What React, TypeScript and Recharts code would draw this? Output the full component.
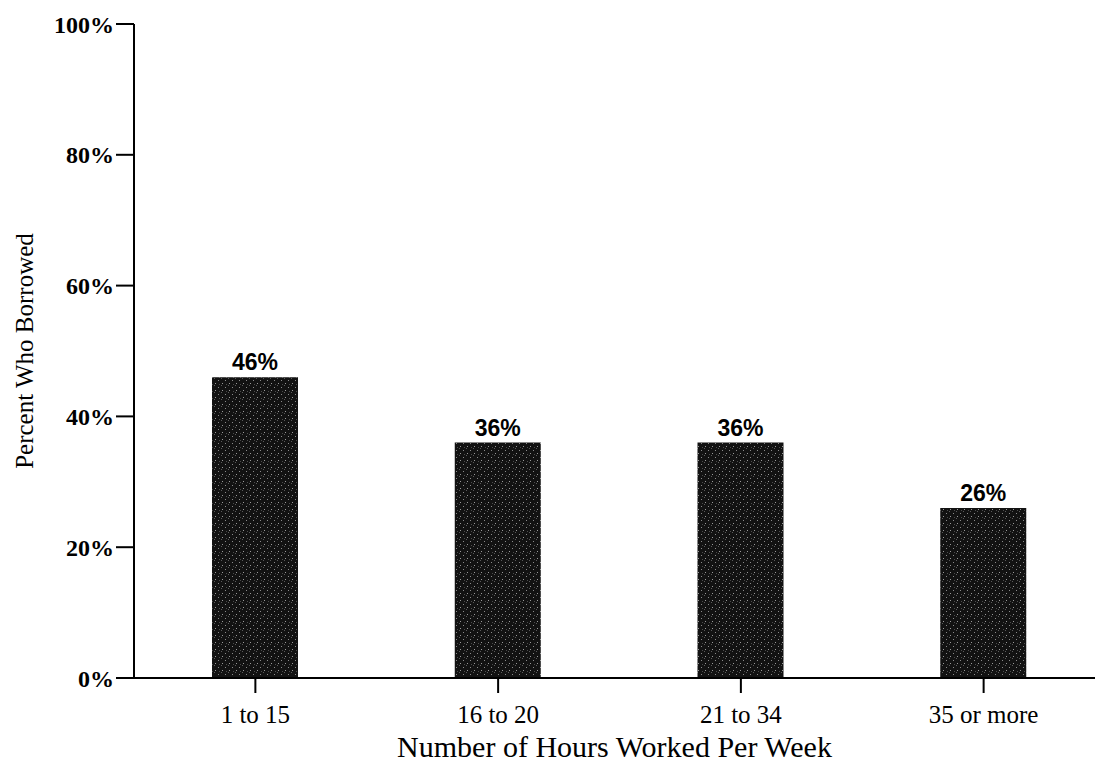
import { BarChart, Bar, XAxis, YAxis, LabelList, Label } from 'recharts'

const categories = ['1 to 15', '16 to 20', '21 to 34', '35 or more']
const borrowed = [46, 36, 36, 26]
const yTicks = [0, 20, 40, 60, 80, 100]

const data = categories.map((name, i) => ({ name, value: borrowed[i] }))

const serif = '"Liberation Serif", "Times New Roman", serif'
const sans = '"Liberation Sans", Arial, sans-serif'

export default function App() {
  return (
    <div
      style={{
        position: 'fixed',
        left: 0,
        top: 0,
        width: 1095,
        height: 764,
        overflow: 'hidden',
        background: '#fff',
      }}
    >
      <BarChart
        width={1105}
        height={764}
        data={data}
        margin={{ top: 24, right: 0, bottom: 0, left: 0 }}
        barCategoryGap={0}
      >
        <defs>
          {/* speckled dark fill like the scanned print */}
          <pattern id="speckle" width="7" height="7" patternUnits="userSpaceOnUse">
            <rect width="7" height="7" fill="#121212" />
            <rect x="1" y="2" width="1" height="1" fill="#8a8a8a" />
            <rect x="4" y="0" width="1" height="1" fill="#5a5a5a" />
            <rect x="5" y="5" width="1" height="1" fill="#9a9a9a" />
            <rect x="2" y="6" width="1" height="1" fill="#4a4a4a" />
          </pattern>
        </defs>
        <XAxis
          dataKey="name"
          height={86}
          stroke="#000"
          strokeWidth={2}
          tickSize={15}
          tickMargin={12}
          tick={{ fill: '#000', fontFamily: serif, fontSize: 25 }}
        >
          <Label
            value="Number of Hours Worked Per Week"
            position="insideBottom"
            offset={7}
            dx={-5}
            fill="#000"
            style={{ fontFamily: serif, fontSize: 30 }}
          />
        </XAxis>
        <YAxis
          width={134}
          domain={[0, 100]}
          ticks={yTicks}
          interval={0}
          tickFormatter={(v) => `${v}%`}
          stroke="#000"
          strokeWidth={2}
          tickSize={18}
          tickMargin={2}
          tick={{ fill: '#000', fontFamily: serif, fontSize: 24, fontWeight: 700 }}
        >
          <Label
            value="Percent Who Borrowed"
            position="center"
            angle={-90}
            dx={-43}
            fill="#000"
            style={{ fontFamily: serif, fontSize: 25 }}
          />
        </YAxis>
        <Bar dataKey="value" barSize={86} fill="url(#speckle)" isAnimationActive={false}>
          <LabelList
            dataKey="value"
            position="top"
            offset={7}
            formatter={(v: number) => `${v}%`}
            fill="#000"
            style={{ fontFamily: sans, fontSize: 23, fontWeight: 700 }}
          />
        </Bar>
      </BarChart>
    </div>
  )
}
